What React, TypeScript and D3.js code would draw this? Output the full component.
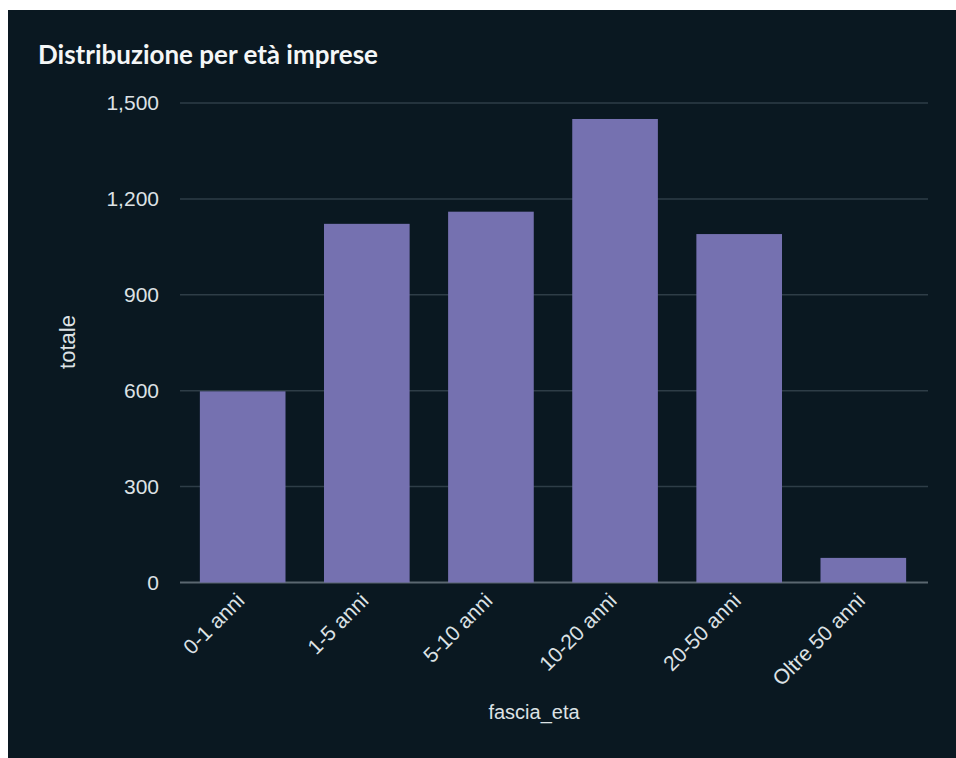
import React from "react";
import * as d3 from "d3";

const categories = ["0-1 anni", "1-5 anni", "5-10 anni", "10-20 anni", "20-50 anni", "Oltre 50 anni"];
const values = [598, 1122, 1160, 1450, 1090, 77];
const yTicks = [0, 300, 600, 900, 1200, 1500];
const title = "Distribuzione per età imprese";
const xTitle = "fascia_eta";
const yTitle = "totale";

export default function App() {
  const W = 956, H = 758;
  const left = 180, right = 926, top = 103, bottom = 582.5;
  const x = d3.scaleBand<string>().domain(categories).range([left, right]).paddingInner(0.31).paddingOuter(0.16);
  const y = d3.scaleLinear().domain([0, 1500]).range([bottom, top]);
  const fmt = d3.format(",");
  const font = "'Liberation Sans', Arial, sans-serif";
  const txt = "#dde2e5";
  return (
    <svg width={W} height={H} style={{ position: "absolute", left: 0, top: 0 }}>
      <rect x={0} y={0} width={W} height={H} fill="#ffffff" />
      <rect x={8} y={10} width={W - 8} height={H - 10} fill="#0a1821" />
      <text x={38} y={64} fill="#f4f6f7" fontFamily="Lato, sans-serif" fontWeight={700} fontSize={26} textLength={340} lengthAdjust="spacingAndGlyphs">{title}</text>
      {yTicks.map((t) => (
        <g key={t}>
          <line x1={left} x2={928} y1={y(t)} y2={y(t)} stroke={t === 0 ? "#5a6770" : "#2e3d47"} strokeWidth={t === 0 ? 2 : 1.5} />
          <text x={159} y={y(t)} dy="0.35em" textAnchor="end" fill={txt} fontFamily={font} fontSize={21}>{fmt(t)}</text>
        </g>
      ))}
      {categories.map((c, i) => (
        <rect key={c} x={x(c)} y={y(values[i])} width={x.bandwidth()} height={bottom - y(values[i])} fill="#7571b0" />
      ))}
      {categories.map((c) => {
        const cx = (x(c) as number) + x.bandwidth() / 2 + 3;
        const cy = 602;
        return (
          <text key={c} x={cx} y={cy} textAnchor="end" fill={txt} fontFamily={font} fontSize={21}
            transform={`rotate(-45, ${cx}, ${cy})`}>{c}</text>
        );
      })}
      <text x={534} y={719} textAnchor="middle" fill={txt} fontFamily={font} fontSize={20}>{xTitle}</text>
      <text transform={`translate(75, 342) rotate(-90)`} textAnchor="middle" fill={txt} fontFamily={font} fontSize={22}>{yTitle}</text>
    </svg>
  );
}
